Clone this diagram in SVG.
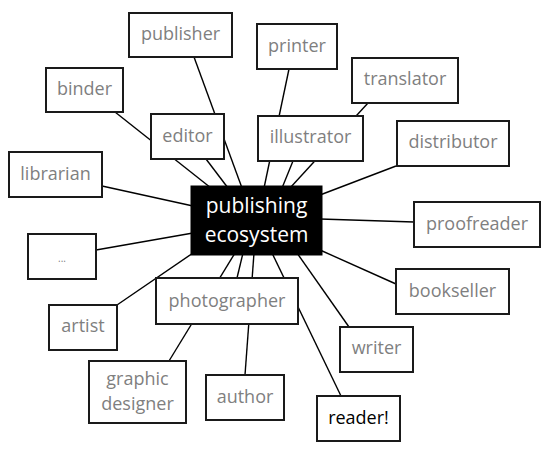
<svg xmlns="http://www.w3.org/2000/svg" width="545" height="455" viewBox="0 0 545 455">
<style>
.bg{fill:#ffffff}
.box{fill:#ffffff;stroke:#1a1a1a;stroke-width:2}
.lbl{font-family:"Open Sans","Liberation Sans",sans-serif;font-size:18px;fill:#7f7f7f;text-anchor:middle}
.conn line{stroke:#000;stroke-width:1.4}
.hub rect{fill:#000;stroke:#000;stroke-width:1}
.hub text{font-family:"Open Sans","Liberation Sans",sans-serif;font-size:21px;fill:#fff;text-anchor:middle}
</style>
<rect class="bg" x="0" y="0" width="545" height="455"/>
<g id="connectors" class="conn">
<line x1="194" y1="57" x2="242" y2="188"/>
<line x1="115" y1="112" x2="211" y2="188"/>
<line x1="206" y1="159" x2="228" y2="188"/>
<line x1="289" y1="69" x2="264" y2="188"/>
<line x1="368" y1="103" x2="290" y2="188"/>
<line x1="293" y1="161" x2="282" y2="188"/>
<line x1="396" y1="166" x2="320" y2="195"/>
<line x1="414" y1="222" x2="320" y2="219"/>
<line x1="396" y1="284" x2="320" y2="250"/>
<line x1="349" y1="327" x2="297" y2="253"/>
<line x1="341" y1="396" x2="272" y2="253"/>
<line x1="245" y1="375" x2="254" y2="253"/>
<line x1="237" y1="278" x2="243" y2="253"/>
<line x1="169" y1="361" x2="235" y2="253"/>
<line x1="117" y1="305" x2="193" y2="253"/>
<line x1="96" y1="250" x2="193" y2="233"/>
<line x1="102" y1="186" x2="193" y2="206"/>
</g>
<g id="hub" class="hub">
<rect x="191" y="186" width="131" height="69"/>
<text x="256.5" y="213">publishing</text>
<text x="256.5" y="242">ecosystem</text>
</g>
<g id="publisher"><rect class="box" x="129" y="13" width="103" height="44"/><text class="lbl" x="180.5" y="40">publisher</text></g>
<g id="printer"><rect class="box" x="257" y="24" width="80" height="45"/><text class="lbl" x="297" y="52">printer</text></g>
<g id="translator"><rect class="box" x="352" y="58" width="106" height="45"/><text class="lbl" x="405" y="85">translator</text></g>
<g id="binder"><rect class="box" x="46" y="68" width="77" height="44"/><text class="lbl" x="84.5" y="95">binder</text></g>
<g id="editor"><rect class="box" x="151" y="114" width="73" height="45"/><text class="lbl" x="187.5" y="142">editor</text></g>
<g id="illustrator"><rect class="box" x="258" y="116" width="105" height="45"/><text class="lbl" x="310.5" y="143">illustrator</text></g>
<g id="distributor"><rect class="box" x="397" y="121" width="112" height="45"/><text class="lbl" x="453" y="148">distributor</text></g>
<g id="librarian"><rect class="box" x="9" y="152" width="93" height="45"/><text class="lbl" x="55.5" y="180">librarian</text></g>
<g id="proofreader"><rect class="box" x="414" y="202" width="126" height="45"/><text class="lbl" x="477" y="230">proofreader</text></g>
<g id="ellipsis"><rect class="box" x="28" y="234" width="68" height="45"/><text class="lbl" x="62" y="262" style="font-size:10px">...</text></g>
<g id="bookseller"><rect class="box" x="396" y="269" width="113" height="45"/><text class="lbl" x="452.5" y="297">bookseller</text></g>
<g id="photographer"><rect class="box" x="156" y="278" width="142" height="46"/><text class="lbl" x="227" y="307">photographer</text></g>
<g id="artist"><rect class="box" x="49" y="305" width="68" height="45"/><text class="lbl" x="83" y="332">artist</text></g>
<g id="writer"><rect class="box" x="340" y="327" width="73" height="45"/><text class="lbl" x="376.5" y="354">writer</text></g>
<g id="graphic-designer"><rect class="box" x="89" y="361" width="97" height="62"/><text class="lbl" x="137.5" y="385">graphic</text><text class="lbl" x="137.5" y="410">designer</text></g>
<g id="author"><rect class="box" x="206" y="375" width="78" height="45"/><text class="lbl" x="245" y="403">author</text></g>
<g id="reader"><rect class="box" x="317" y="396" width="83" height="45"/><text class="lbl" x="358.5" y="424" style="fill:#000">reader!</text></g>
</svg>
